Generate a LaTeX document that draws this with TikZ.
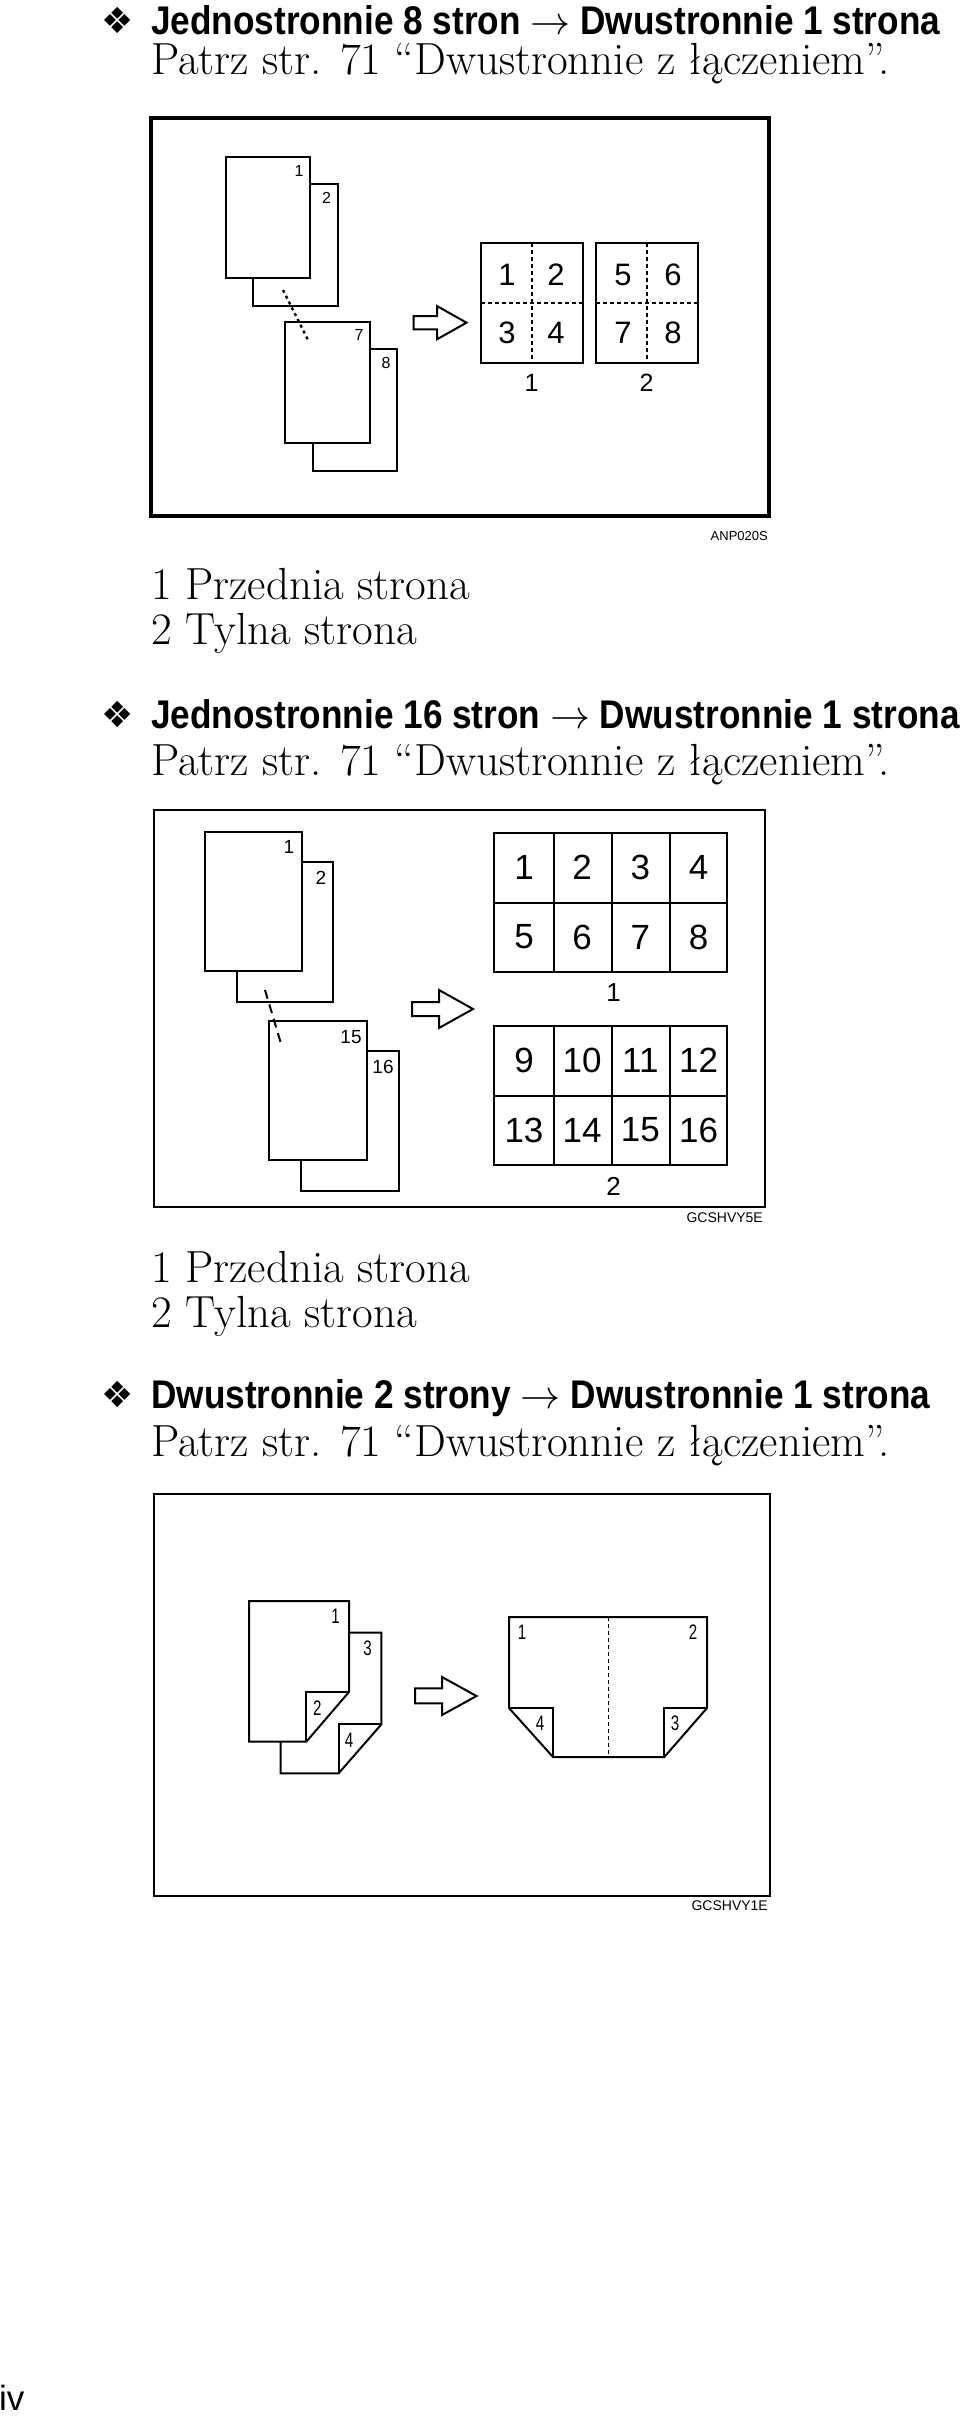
\documentclass[tikz,border=0pt]{standalone}
\usepackage{fix-cm}
\usepackage{fontspec}
\setmainfont{Latin Modern Roman}
\newfontfamily\helvfont{Liberation Sans}
\newfontfamily\headfont{Liberation Sans}[FakeStretch=0.88]
\newfontfamily\narrowfont{Liberation Sans}[FakeStretch=0.72]
\newfontfamily\dingfont{DejaVu Sans}
\usetikzlibrary{calc}
\tikzset{
  heavyframe/.style={draw=black, line width=3.6pt},
  lightframe/.style={draw=black, line width=2pt},
  sheet/.style={draw=black, fill=white, line width=2pt, line join=miter},
  foldline/.style={black, line width=2pt},
  cellline/.style={black, line width=2pt},
  cutline/.style={black, line width=1.5pt, dash pattern=on 4pt off 3pt},
  seamdots/.style={black, line width=2.4pt, dash pattern=on 3pt off 3.5pt},
  seamdash/.style={black, line width=2pt, dash pattern=on 9pt off 6pt},
  hollowarrow/.style={draw=black, fill=white, line width=2pt, line join=miter},
  headline/.style={anchor=base west, inner sep=0pt, font=\headfont\bfseries\fontsize{40}{44}\selectfont},
  bodyline/.style={anchor=base west, inner sep=0pt, font=\fontsize{45}{52}\selectfont},
  dingmark/.style={inner sep=0pt, font=\dingfont\fontsize{36}{36}\selectfont},
  digit/.style={inner sep=0pt, font=\helvfont\fontsize{#1}{#1}\selectfont},
  narrowdigit/.style={inner sep=0pt, font=\narrowfont\fontsize{21}{21}\selectfont},
  codetag/.style={anchor=east, inner sep=0pt, font=\helvfont\fontsize{#1}{#1}\selectfont}
}

\begin{document}
\begin{tikzpicture}[x=1pt, y=-1pt]
  \useasboundingbox (0,0) rectangle (960,2421);

  % first section: 8 pages
  \node[dingmark] (markA) at (117.5,20) {❖};
  \node[headline] (headA) at (151,34) {Jednostronnie 8 stron $\rightarrow$ Dwustronnie 1 strona};
  \node[bodyline] (seeA) at (151,74) {Patrz str. 71 “Dwustronnie z łączeniem”.};

  \draw[heavyframe] (151,118) rectangle (769,516);
  \draw[sheet] (253,184) rectangle (338,306);
  \draw[sheet] (226,157) rectangle (310,278);
  \node[digit=16] (pgA1) at (299,171) {1};
  \node[digit=16] (pgA2) at (326.5,198) {2};
  \draw[sheet] (313,349) rectangle (397,471);
  \draw[sheet] (285,322) rectangle (370,443);
  \node[digit=16] (pgA7) at (359,335) {7};
  \node[digit=16] (pgA8) at (386,363) {8};
  \draw[seamdots] (283,290) -- (308,340);
  \draw[hollowarrow] (413.5,316) -- (437,316) -- (437,306) -- (466.5,322.7)
    -- (437,339.3) -- (437,329.3) -- (413.5,329.3) -- cycle;
  \foreach \gx/\gl in {481/1,596/2}{
    \draw[cellline] (\gx,243) rectangle ++(102,120);
    \draw[cutline] (\gx+51,243) -- ++(0,120);
    \draw[cutline] (\gx,303) -- ++(102,0);
    \node[digit=25] (outA\gl) at (\gx+50.5,383) {\gl};
  }
  \foreach \n/\cx/\cy in {1/507/275,2/556/275,3/507/333,4/556/333,
                          5/623/275,6/673/275,7/623/333,8/673/333}{
    \node[digit=31] (cellA\n) at (\cx,\cy) {\n};
  }
  \node[codetag=13] (tagA) at (768,536) {ANP020S};

  \node[bodyline] (frontA) at (151,599) {1 Przednia strona};
  \node[bodyline] (backA) at (151,644) {2 Tylna strona};

  % second section: 16 pages
  \node[dingmark] (markB) at (117.5,714.5) {❖};
  \node[headline] (headB) at (151,728.5) {Jednostronnie 16 stron $\rightarrow$ Dwustronnie 1 strona};
  \node[bodyline] (seeB) at (151,775) {Patrz str. 71 “Dwustronnie z łączeniem”.};

  \draw[lightframe] (154,810) rectangle (765,1207);
  \draw[sheet] (237,862) rectangle (333,1002);
  \draw[sheet] (205,832) rectangle (302,971);
  \node[digit=19] (pgB1) at (289,847) {1};
  \node[digit=19] (pgB2) at (321,878) {2};
  \draw[sheet] (301,1051) rectangle (399,1191);
  \draw[sheet] (269,1021) rectangle (367,1160);
  \node[digit=19] (pgB15) at (351,1037) {15};
  \node[digit=19] (pgB16) at (383,1067) {16};
  \draw[seamdash] (265,990) -- (282,1047);
  \draw[hollowarrow] (412,1002) -- (439,1002) -- (439,990) -- (473,1009)
    -- (439,1028) -- (439,1016) -- (412,1016) -- cycle;
  \foreach \gy/\gl in {833/1,1026/2}{
    \draw[cellline] (494,\gy) rectangle ++(233,139);
    \draw[cellline] (494,\gy+69.5) -- ++(233,0);
    \foreach \cx in {554,612,670}{
      \draw[cellline] (\cx,\gy) -- ++(0,139);
    }
    \node[digit=26] (outB\gl) at (613.5,\gy+160) {\gl};
  }
  \foreach \n [count=\k from 0] in {1,...,16}{
    \pgfmathtruncatemacro{\col}{mod(\k,4)}
    \pgfmathtruncatemacro{\row}{div(\k,4)}
    \pgfmathsetmacro{\cx}{524+58.2*\col}
    \pgfmathsetmacro{\cy}{867.5+69.5*\row+54*div(\row,2)}
    \node[digit=35] (cellB\n) at (\cx,\cy) {\n};
  }
  \node[codetag=14] (tagB) at (763,1218) {GCSHVY5E};

  \node[bodyline] (frontB) at (151,1282) {1 Przednia strona};
  \node[bodyline] (backB) at (151,1327) {2 Tylna strona};

  % third section: duplex originals
  \node[dingmark] (markC) at (117.5,1394) {❖};
  \node[headline] (headC) at (151,1408) {Dwustronnie 2 strony $\rightarrow$ Dwustronnie 1 strona};
  \node[bodyline] (seeC) at (151,1456) {Patrz str. 71 “Dwustronnie z łączeniem”.};

  \draw[lightframe] (154,1494) rectangle (770,1896);
  \draw[sheet] (280.6,1632.7) -- (381.4,1632.7) -- (381.4,1724.3) -- (338.6,1773.3)
    -- (280.6,1773.3) -- cycle;
  \draw[foldline] (338.6,1773.3) -- (338.6,1724.3) -- (381.4,1724.3);
  \draw[sheet] (249.2,1601) -- (349.2,1601) -- (349.2,1691.7) -- (306.3,1741.7)
    -- (249.2,1741.7) -- cycle;
  \draw[foldline] (306.3,1741.7) -- (306.3,1691.7) -- (349.2,1691.7);
  \node[narrowdigit] (pgC1) at (335.7,1616.7) {1};
  \node[narrowdigit] (pgC3) at (367.6,1648.3) {3};
  \node[narrowdigit] (pgC2) at (317.3,1708.3) {2};
  \node[narrowdigit] (pgC4) at (349.2,1740) {4};
  \draw[hollowarrow] (415,1688.3) -- (442,1688.3) -- (442,1677) -- (476.5,1696)
    -- (442,1715) -- (442,1703.3) -- (415,1703.3) -- cycle;
  \draw[sheet] (509,1617) -- (707,1617) -- (707,1708) -- (664.3,1757) -- (553,1757)
    -- (509,1708) -- cycle;
  \draw[foldline] (509,1708) -- (553,1708) -- (553,1757);
  \draw[foldline] (707,1708) -- (664.3,1708) -- (664.3,1757);
  \draw[cutline] (608.4,1617) -- (608.4,1757);
  \node[narrowdigit] (outC1) at (522,1632) {1};
  \node[narrowdigit] (outC2) at (693,1632) {2};
  \node[narrowdigit] (outC4) at (540,1723) {4};
  \node[narrowdigit] (outC3) at (675,1723) {3};
  \node[codetag=14] (tagC) at (768,1906) {GCSHVY1E};

  \node[anchor=base west, inner sep=0pt, font=\helvfont\fontsize{35}{35}\selectfont] (folio) at (-1,2410) {iv};
\end{tikzpicture}
\end{document}
